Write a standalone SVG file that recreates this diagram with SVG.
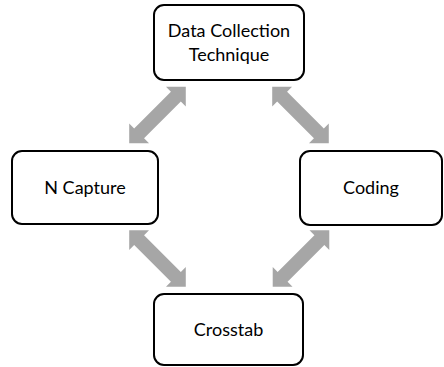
<svg xmlns="http://www.w3.org/2000/svg" width="444" height="367" viewBox="0 0 444 367">
<style>
.box{fill:#fff;stroke:#000;stroke-width:2}
.lbl{font-family:"Lato","Liberation Sans",sans-serif;font-size:18px;fill:#000;text-anchor:middle}
.arr{fill:#A6A6A6}
</style>
<defs>
<polygon id="dbl" points="-40,0 -26,-14 -26,-7 26,-7 26,-14 40,0 26,14 26,7 -26,7 -26,14"/>
</defs>
<rect width="444" height="367" fill="#fff"/>
<g id="connectors" class="arr">
<use href="#dbl" transform="translate(157.5,115) rotate(-45)"/>
<use href="#dbl" transform="translate(300.5,115) rotate(45)"/>
<use href="#dbl" transform="translate(157.5,258.5) rotate(45)"/>
<use href="#dbl" transform="translate(301,258.5) rotate(-45)"/>
</g>
<g id="data-collection">
<rect class="box" x="154" y="5" width="150" height="75" rx="10"/>
<text class="lbl" x="229" y="37">Data Collection</text>
<text class="lbl" x="229" y="61">Technique</text>
</g>
<g id="n-capture">
<rect class="box" x="12" y="151" width="146" height="73" rx="10"/>
<text class="lbl" x="85" y="194">N Capture</text>
</g>
<g id="coding">
<rect class="box" x="300" y="151" width="142" height="74" rx="10"/>
<text class="lbl" x="371" y="194">Coding</text>
</g>
<g id="crosstab">
<rect class="box" x="154" y="294" width="149" height="71" rx="10"/>
<text class="lbl" x="228.5" y="336">Crosstab</text>
</g>
</svg>
